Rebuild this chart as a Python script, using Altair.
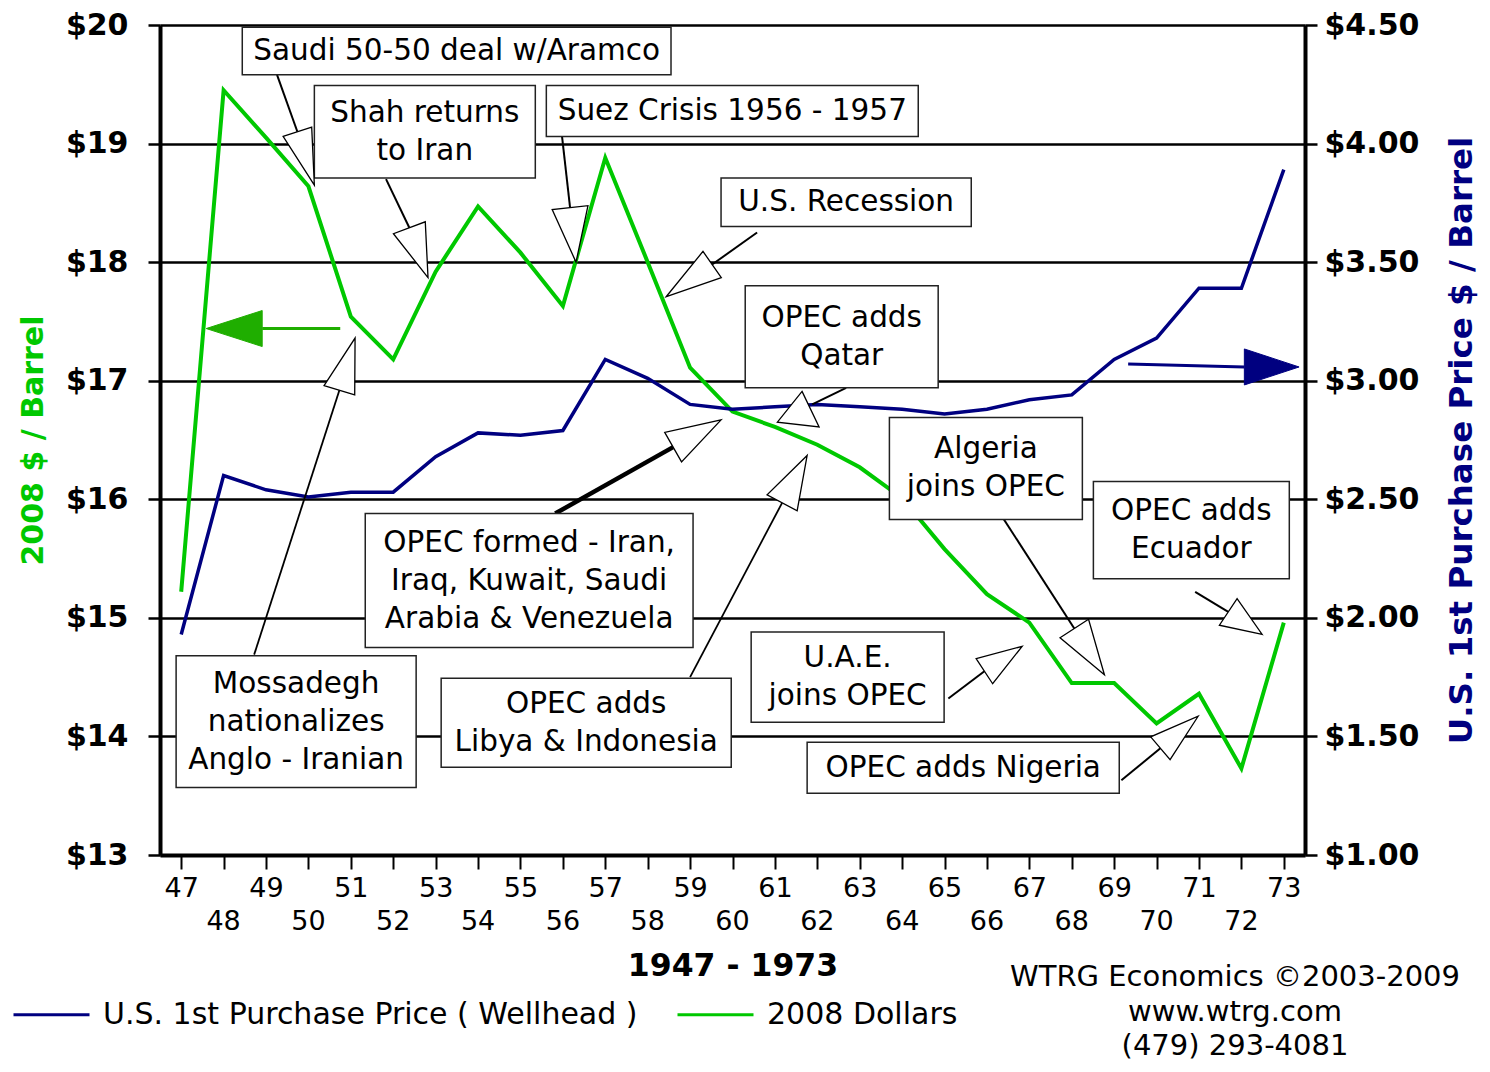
import math
import altair as alt
import pandas as pd

# ---------------- data ----------------
years = list(range(47, 74))
real_2008 = [15.22, 19.45, 19.05, 18.64, 17.54, 17.18, 17.92, 18.47, 18.08, 17.63,
             18.88, 18.00, 17.11, 16.74, 16.61, 16.46, 16.27, 16.01, 15.58, 15.20,
             14.96, 14.45, 14.45, 14.11, 14.36, 13.73, 14.96]
nominal = [1.93, 2.60, 2.54, 2.51, 2.53, 2.53, 2.68, 2.78, 2.77, 2.79,
           3.09, 3.01, 2.90, 2.88, 2.89, 2.90, 2.89, 2.88, 2.86, 2.88,
           2.92, 2.94, 3.09, 3.18, 3.39, 3.39, 3.89]
series_names = ["U.S. 1st Purchase Price ( Wellhead )", "2008 Dollars"]
left_ticks = [13, 14, 15, 16, 17, 18, 19, 20]
right_ticks = [1.0, 1.5, 2.0, 2.5, 3.0, 3.5, 4.0, 4.5]
even_years = [y for y in years if y % 2 == 0]

# annotation boxes (data units: year, 2008 $)
box_text = [
    "Saudi 50-50 deal w/Aramco",
    "Shah returns\nto Iran",
    "Suez Crisis 1956 - 1957",
    "U.S. Recession",
    "OPEC adds\nQatar",
    "OPEC formed - Iran,\nIraq, Kuwait, Saudi\nArabia & Venezuela",
    "Mossadegh\nnationalizes\nAnglo - Iranian",
    "OPEC adds\nLibya & Indonesia",
    "Algeria\njoins OPEC",
    "OPEC adds\nEcuador",
    "U.A.E.\njoins OPEC",
    "OPEC adds Nigeria",
]
box_x1 = [48.44, 50.14, 55.61, 59.73, 60.30, 51.34, 46.88, 53.13, 63.70, 68.51, 60.44, 61.76]
box_x2 = [58.55, 55.35, 64.38, 65.63, 64.85, 59.07, 52.54, 59.97, 68.25, 73.13, 64.99, 69.12]
box_y1 = [19.98, 19.49, 19.49, 18.71, 17.80, 15.88, 14.68, 14.49, 16.69, 16.15, 14.88, 13.95]
box_y2 = [19.58, 18.71, 19.06, 18.30, 16.94, 14.75, 13.57, 13.74, 15.83, 15.33, 14.12, 13.52]

# annotation arrows (data units)
arrow_start_x = [49.26, 51.83, 55.98, 60.58, 62.68, 55.82, 48.72, 59.00, 66.22, 70.91, 65.09, 69.17]
arrow_start_y = [19.58, 18.70, 19.06, 18.25, 16.94, 15.88, 14.69, 14.50, 15.93, 15.22, 14.32, 13.63]
arrow_end_x = [49.74, 52.38, 56.17, 59.52, 61.88, 58.60, 50.73, 61.17, 68.06, 71.69, 65.94, 70.09]
arrow_end_y = [19.10, 18.29, 18.46, 17.98, 16.80, 16.44, 16.92, 15.97, 14.91, 15.05, 14.55, 13.90]
arrow_base_x = [49.74, 52.38, 56.17, 59.52, 61.55, 58.60, 50.73, 61.17, 68.06, 71.69, 65.94, 70.09]
arrow_base_y = [19.10, 18.29, 18.46, 17.98, 16.63, 16.44, 16.92, 15.97, 14.91, 15.05, 14.55, 13.90]
arrow_tip_x = [50.14, 52.82, 56.31, 58.44, 61.64, 59.73, 51.10, 61.76, 68.77, 72.49, 66.83, 70.98]
arrow_tip_y = [18.65, 17.87, 18.00, 17.71, 16.91, 16.67, 17.36, 16.37, 14.52, 14.86, 14.76, 14.17]

# big series-pointer arrows
green_ptr_x = [50.75, 48.91, 47.59]   # start, head base, tip (left scale)
green_ptr_y = [17.44, 17.44, 17.44]
blue_ptr_x = [69.33, 72.07, 73.36]    # start, head base, tip (right scale)
blue_ptr_y = [3.070, 3.058, 3.058]

credit_text = "WTRG Economics  \u00a92003-2009\nwww.wtrg.com\n(479) 293-4081"

# ---------------- styles ----------------
W, H = 1145, 830
X_DOM = [46.5, 73.5]
YL_DOM = [13, 20]
YR_DOM = [1.0, 4.5]
FONT = "DejaVu Sans"
GREEN = "#00c800"
GREEN_ARROW = "#1fae00"
NAVY = "#000080"
head_halfwidth = [15, 17, 18, 16, 21, 17, 16, 17, 17, 16, 15, 15]
line_width = [2, 2, 2, 2, 2, 4.5, 1.8, 1.8, 2, 2, 2, 2]
LINE_H = 38

PXX = W / (X_DOM[1] - X_DOM[0])
PXYL = H / (YL_DOM[1] - YL_DOM[0])
PXYR = H / (YR_DOM[1] - YR_DOM[0])


def head(bx, by, tx, ty, hw, pxy):
    dx = (tx - bx) * PXX
    dy = -(ty - by) * pxy
    L = math.hypot(dx, dy)
    ang = math.degrees(math.atan2(dx, -dy)) % 360
    k = hw / (L / 2)
    return dict(tx=tx, ty=ty, angle=ang, size=L * L,
                path=f"M0,0L{k:.4f},2L{-k:.4f},2Z")


xs = alt.Scale(domain=X_DOM, nice=False, zero=False)
yls = alt.Scale(domain=YL_DOM, nice=False, zero=False)
yrs = alt.Scale(domain=YR_DOM, nice=False, zero=False)
color_scale = alt.Scale(domain=series_names, range=[NAVY, GREEN])

legend = alt.Legend(orient="none", legendX=-148, legendY=950, direction="horizontal",
                    title=None, symbolType="stroke", symbolSize=5776, symbolStrokeWidth=3,
                    labelFont=FONT, labelFontSize=30, labelColor="black", labelLimit=1000,
                    labelOffset=12, columnPadding=33, padding=0)

x_axis = alt.Axis(values=years,
                  labelExpr="datum.value % 2 == 1 ? '' + datum.value : ''",
                  labelFont=FONT, labelFontSize=27, labelColor="black",
                  labelPadding=6, labelOverlap=False, labelFlush=False,
                  tickSize=14, tickWidth=2, tickColor="black",
                  domainColor="black", domainWidth=4, grid=False,
                  title="1947 - 1973", titleFont=FONT, titleFontSize=31.5,
                  titleFontWeight="bold", titleColor="black", titlePadding=49)

left_axis = alt.Axis(orient="left", values=left_ticks, labelExpr="'$' + datum.value",
                     labelFont=FONT, labelFontSize=30, labelFontWeight="bold",
                     labelColor="black", labelPadding=20,
                     tickSize=12, tickWidth=2.5, tickColor="black",
                     domainColor="black", domainWidth=4,
                     grid=True, gridColor="black", gridWidth=2.5,
                     title="2008 $ / Barrel", titleFont=FONT, titleFontSize=30,
                     titleFontWeight="bold", titleColor=GREEN, titlePadding=17)

right_axis = alt.Axis(orient="right", values=right_ticks,
                      labelExpr="'$' + format(datum.value, '.2f')",
                      labelFont=FONT, labelFontSize=30, labelFontWeight="bold",
                      labelColor="black", labelPadding=7,
                      tickSize=12, tickWidth=2.5, tickColor="black",
                      domainColor="black", domainWidth=4, grid=False,
                      title="U.S. 1st Purchase Price $ / Barrel", titleFont=FONT,
                      titleFontSize=32.5, titleFontWeight="bold", titleColor=NAVY,
                      titleAngle=270, titleBaseline="top", titlePadding=27)

# ---------------- frames ----------------
df_real = pd.DataFrame({"year": years, "value": real_2008, "series": series_names[1]})
df_nom = pd.DataFrame({"year": years, "value": nominal, "series": series_names[0]})
df_even = pd.DataFrame({"year": even_years, "label": [str(y) for y in even_years]})

df_box = pd.DataFrame({"text": box_text, "x1": box_x1, "x2": box_x2, "y1": box_y1, "y2": box_y2})
df_box["nlines"] = df_box["text"].str.count("\n") + 1
df_box["cx"] = (df_box["x1"] + df_box["x2"]) / 2
# first-line position so that the block of lines is centred in its box
df_box["cy"] = (df_box["y1"] + df_box["y2"]) / 2 + (df_box["nlines"] - 1) * LINE_H / 2 / PXYL

df_arrow = pd.DataFrame({"sx": arrow_start_x, "sy": arrow_start_y,
                         "ex": arrow_end_x, "ey": arrow_end_y, "lw": line_width})
df_heads = pd.DataFrame([head(arrow_base_x[i], arrow_base_y[i], arrow_tip_x[i], arrow_tip_y[i],
                              head_halfwidth[i], PXYL) for i in range(len(arrow_tip_x))])

df_gptr = pd.DataFrame({"sx": [green_ptr_x[0]], "sy": [green_ptr_y[0]],
                        "ex": [green_ptr_x[1]], "ey": [green_ptr_y[1]]})
df_ghead = pd.DataFrame([head(green_ptr_x[1], green_ptr_y[1], green_ptr_x[2], green_ptr_y[2], 18, PXYL)])
df_bptr = pd.DataFrame({"sx": [blue_ptr_x[0]], "sy": [blue_ptr_y[0]],
                        "ex": [blue_ptr_x[1]], "ey": [blue_ptr_y[1]]})
df_bhead = pd.DataFrame([head(blue_ptr_x[1], blue_ptr_y[1], blue_ptr_x[2], blue_ptr_y[2], 18, PXYR)])


def X(f):
    # the same x-axis definition in every layer so the shared axis merges cleanly
    return alt.X(f, scale=xs, axis=x_axis)


def YL(f, axis=None):
    return alt.Y(f, scale=yls, axis=axis)


def YR(f, axis=None):
    return alt.Y(f, scale=yrs, axis=axis)


# ---------------- layers ----------------
green_line = alt.Chart(df_real).mark_line(strokeWidth=4).encode(
    x=X("year:Q"), y=YL("value:Q", axis=left_axis),
    color=alt.Color("series:N", scale=color_scale, legend=legend))

blue_line = alt.Chart(df_nom).mark_line(strokeWidth=3.5).encode(
    x=X("year:Q"), y=YR("value:Q", axis=right_axis),
    color=alt.Color("series:N", scale=color_scale, legend=legend))

even_labels = alt.Chart(df_even).mark_text(font=FONT, fontSize=27, color="black",
                                           baseline="middle", align="center").encode(
    x=X("year:Q"), y=alt.value(H + 67), text="label:N")

green_rule = alt.Chart(df_gptr).mark_rule(color=GREEN_ARROW, strokeWidth=3).encode(
    x=X("sx:Q"), y=YL("sy:Q"), x2="ex:Q", y2="ey:Q")
green_head = alt.Chart(df_ghead).mark_point(filled=True, opacity=1, fill=GREEN_ARROW,
                                            stroke=GREEN_ARROW, strokeWidth=1).encode(
    x=X("tx:Q"), y=YL("ty:Q"),
    shape=alt.Shape("path:N", scale=None), size=alt.Size("size:Q", scale=None),
    angle=alt.Angle("angle:Q", scale=None))

blue_rule = alt.Chart(df_bptr).mark_rule(color=NAVY, strokeWidth=3).encode(
    x=X("sx:Q"), y=YR("sy:Q"), x2="ex:Q", y2="ey:Q")
blue_head = alt.Chart(df_bhead).mark_point(filled=True, opacity=1, fill=NAVY,
                                           stroke=NAVY, strokeWidth=1).encode(
    x=X("tx:Q"), y=YR("ty:Q"),
    shape=alt.Shape("path:N", scale=None), size=alt.Size("size:Q", scale=None),
    angle=alt.Angle("angle:Q", scale=None))

rules = alt.Chart(df_arrow).mark_rule(color="black").encode(
    x=X("sx:Q"), y=YL("sy:Q"), x2="ex:Q", y2="ey:Q",
    strokeWidth=alt.StrokeWidth("lw:Q", scale=None))

boxes = alt.Chart(df_box).mark_rect(fill="white", stroke="#222222", strokeWidth=1.5).encode(
    x=X("x1:Q"), x2="x2:Q", y=YL("y1:Q"), y2="y2:Q")

texts = alt.Chart(df_box).mark_text(font=FONT, fontSize=29.5, lineBreak="\n", lineHeight=LINE_H,
                                    align="center", baseline="middle", color="black").encode(
    x=X("cx:Q"), y=YL("cy:Q"), text="text:N")

heads = alt.Chart(df_heads).mark_point(filled=True, opacity=1, fill="white",
                                       stroke="black", strokeWidth=1.3).encode(
    x=X("tx:Q"), y=YL("ty:Q"),
    shape=alt.Shape("path:N", scale=None), size=alt.Size("size:Q", scale=None),
    angle=alt.Angle("angle:Q", scale=None))

credits = alt.Chart(pd.DataFrame({"t": [credit_text]})).mark_text(
    font=FONT, fontSize=29, lineBreak="\n", lineHeight=34.5, align="center",
    baseline="middle", color="black").encode(text="t:N", x=alt.value(1075), y=alt.value(952))

chart = alt.layer(
    green_line, blue_line, even_labels, green_rule, green_head, blue_rule, blue_head,
    rules, boxes, texts, heads, credits
).resolve_scale(
    y="independent"
).properties(
    width=W, height=H,
    autosize=alt.AutoSizeParams(type="none"),
    padding={"left": 152, "top": 17, "right": 177, "bottom": 209},
).configure_view(stroke=None)

chart.save("out.html", embed_options={"renderer": "svg", "actions": False})
